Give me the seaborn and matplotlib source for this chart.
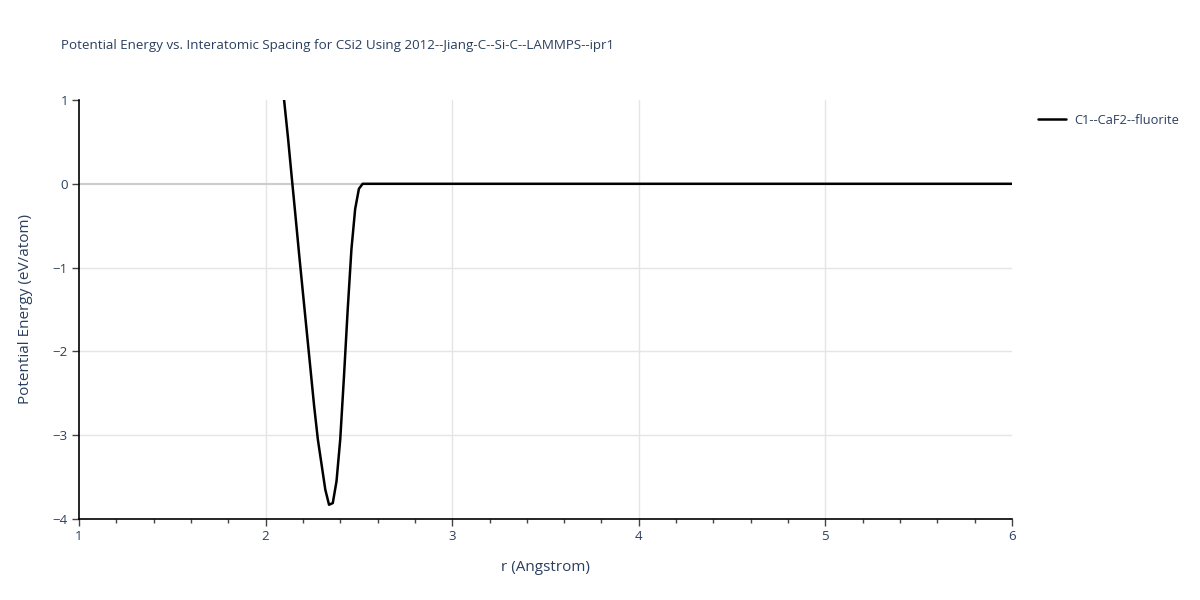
import numpy as np
import pandas as pd
import matplotlib
matplotlib.use('Agg')
import matplotlib.pyplot as plt
import seaborn as sns
from matplotlib.ticker import MultipleLocator
from matplotlib.lines import Line2D

# valores
r_curva = [2.08, 2.10, 2.12, 2.14, 2.16, 2.18, 2.20, 2.22, 2.24, 2.26, 2.28,
           2.30, 2.32, 2.34, 2.36, 2.38, 2.40, 2.42, 2.44, 2.46, 2.48, 2.50, 2.52]
e_curva = [1.40, 0.98, 0.55, 0.08, -0.38, -0.85, -1.30, -1.75, -2.20, -2.65, -3.05,
           -3.35, -3.65, -3.83, -3.81, -3.55, -3.05, -2.30, -1.50, -0.78, -0.30, -0.06, 0.0]
r_plano = [2.6, 2.8, 3.0, 3.5, 4.0, 4.5, 5.0, 5.5, 6.0]
e_plano = [0.0, 0.0, 0.0, 0.0, 0.0, 0.0, 0.0, 0.0, 0.0]
serie = 'C1--CaF2--fluorite'

df = pd.DataFrame({'r': r_curva + r_plano, 'E': e_curva + e_plano})
df['estrutura'] = serie

sns.set_theme(style='white')
plt.rcParams['font.family'] = ['Open Sans', 'DejaVu Sans']
cor_texto = '#2a3f5f'

fig = plt.figure(figsize=(12, 6), dpi=100)
ax = fig.add_axes([79 / 1200, 1 - 519 / 600, (1012 - 79) / 1200, (519 - 100) / 600])

# grade estilo plotly
for x in [2, 3, 4, 5]:
    ax.axvline(x, color='#e5e5e5', lw=1, zorder=0)
for y in [-3, -2, -1]:
    ax.axhline(y, color='#e5e5e5', lw=1, zorder=0)
ax.axhline(0, color='#cccccc', lw=1.5, zorder=0)

sns.lineplot(data=df, x='r', y='E', hue='estrutura', palette=['black'],
             lw=1.8, ax=ax, legend=False, sort=False)

ax.set_xlim(1, 6)
ax.set_ylim(-4, 1)
ax.xaxis.set_major_locator(MultipleLocator(1))
ax.xaxis.set_minor_locator(MultipleLocator(0.2))
ax.yaxis.set_major_locator(MultipleLocator(1))

for lado in ['top', 'right']:
    ax.spines[lado].set_visible(False)
for lado in ['left', 'bottom']:
    ax.spines[lado].set_color('black')
    ax.spines[lado].set_linewidth(1.2)

ax.tick_params(axis='both', which='major', direction='out', length=5, width=1,
               color='#444444', labelsize=9.5, labelcolor=cor_texto, pad=3,
               bottom=True, left=True)
ax.tick_params(axis='x', which='minor', direction='out', length=3, width=1,
               color='#444444', bottom=True)

ax.set_xlabel('r (Angstrom)', fontsize=11, color=cor_texto, labelpad=12)
ax.set_ylabel('Potential Energy (eV/atom)', fontsize=11, color=cor_texto, labelpad=14)

fig.text(61 / 1200, 1 - 45 / 600, 'Potential Energy vs. Interatomic Spacing for CSi2 Using 2012--Jiang-C--Si-C--LAMMPS--ipr1',
         fontsize=9.6, color=cor_texto, va='center', ha='left')

# legenda
h = [Line2D([0], [0], color='black', lw=1.8)]
fig.legend(h, [serie], loc='upper left', bbox_to_anchor=(1026 / 1200, 1 - 102 / 600),
           frameon=False, fontsize=9.3, handlelength=2.2, handletextpad=0.6,
           labelcolor=cor_texto)

fig.savefig('out.png', dpi=100)
